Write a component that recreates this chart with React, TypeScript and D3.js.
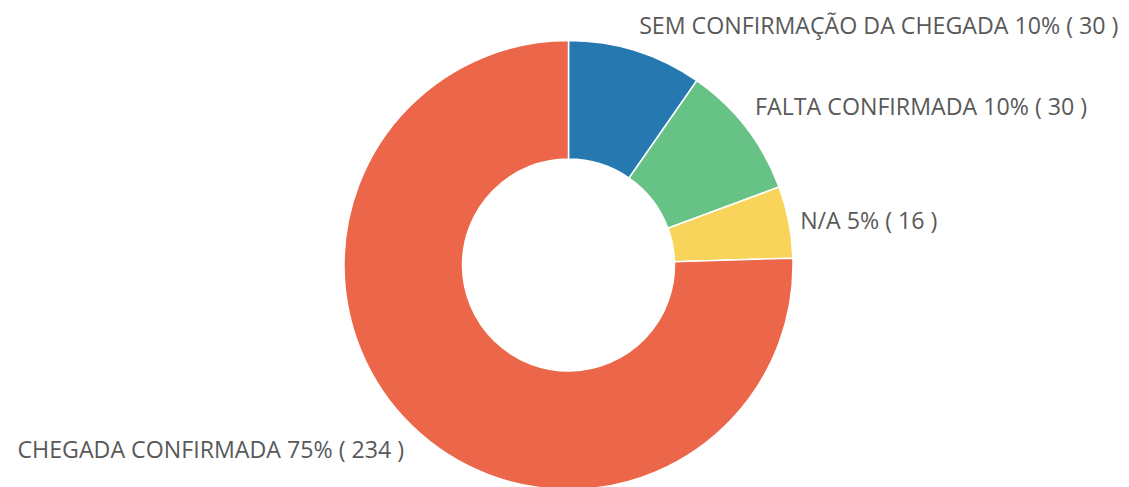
import React from "react";
import * as d3 from "d3";

const categories = [
  "SEM CONFIRMAÇÃO DA CHEGADA",
  "FALTA CONFIRMADA",
  "N/A",
  "CHEGADA CONFIRMADA",
];
const values = [30, 30, 16, 234];
const percentLabels = ["10%", "10%", "5%", "75%"];
const colors = ["#2679b0", "#66c285", "#f8d45b", "#ec6649"];

const W = 1129;
const H = 487;
const cx = 568.5;
const cy = 265;
const outerR = 224.5;
const innerR = 106;
const labelR = 236;
const halfText = 14.5;

export default function App() {
  const pie = d3.pie<number>().sort(null).value((d) => d);
  const arcs = pie(values);
  const arc = d3.arc<d3.PieArcDatum<number>>().innerRadius(innerR).outerRadius(outerR);
  const labelArc = d3.arc<d3.PieArcDatum<number>>().innerRadius(labelR).outerRadius(labelR);

  return (
    <svg width={W} height={H} style={{ position: "absolute", left: 0, top: 0 }}>
      <g transform={`translate(${cx},${cy})`}>
        {arcs.map((a, i) => (
          <path key={i} d={arc(a) || ""} fill={colors[i]} stroke="#fff" strokeWidth={1.5} />
        ))}
        {arcs.map((a, i) => {
          const [x, y] = labelArc.centroid(a);
          const mid = (a.startAngle + a.endAngle) / 2;
          const anchor = mid < Math.PI ? "start" : "end";
          const c = Math.cos(mid);
          const dy = Math.abs(c) < 0.35 ? 0 : -Math.sign(c) * halfText;
          return (
            <text
              key={i}
              x={x}
              y={y + dy}
              textAnchor={anchor}
              dominantBaseline="central"
              fontFamily="'Open Sans', 'Noto Sans', sans-serif"
              fontSize={23.2}
              fill="#595959"
            >
              {`${categories[i]} ${percentLabels[i]} ( ${values[i]} )`}
            </text>
          );
        })}
      </g>
    </svg>
  );
}
